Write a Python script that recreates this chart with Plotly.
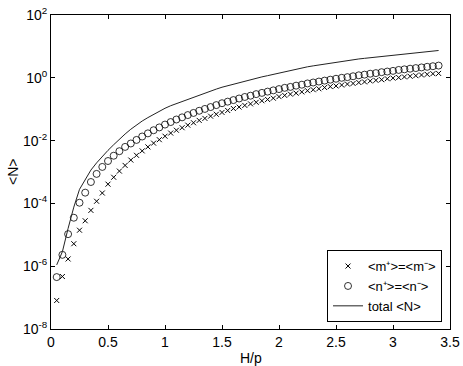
import plotly.graph_objects as go

# H/p grid
h_over_p = [0.05, 0.10, 0.15, 0.20, 0.25, 0.30, 0.35, 0.40, 0.45, 0.50,
            0.55, 0.60, 0.65, 0.70, 0.75, 0.80, 0.85, 0.90, 0.95, 1.00,
            1.05, 1.10, 1.15, 1.20, 1.25, 1.30, 1.35, 1.40, 1.45, 1.50,
            1.55, 1.60, 1.65, 1.70, 1.75, 1.80, 1.85, 1.90, 1.95, 2.00,
            2.05, 2.10, 2.15, 2.20, 2.25, 2.30, 2.35, 2.40, 2.45, 2.50,
            2.55, 2.60, 2.65, 2.70, 2.75, 2.80, 2.85, 2.90, 2.95, 3.00,
            3.05, 3.10, 3.15, 3.20, 3.25, 3.30, 3.35, 3.40]

# <m+> = <m->
m_vals = [8.1e-8, 4.7e-7, 1.7e-6, 5.2e-6, 1.4e-5, 2.8e-5, 6.0e-5, 1.17e-4, 2.14e-4, 4.1e-4,
          6.8e-4, 1.07e-3, 1.62e-3, 2.4e-3, 3.4e-3, 4.7e-3, 6.3e-3, 8.3e-3, 1.07e-2, 1.38e-2,
          1.74e-2, 2.14e-2, 2.57e-2, 3.1e-2, 3.7e-2, 4.4e-2, 5.1e-2, 6.0e-2, 6.9e-2, 7.9e-2,
          9.1e-2, 0.105, 0.117, 0.132, 0.148, 0.166, 0.186, 0.204, 0.224, 0.251,
          0.275, 0.302, 0.324, 0.355, 0.389, 0.417, 0.447, 0.490, 0.525, 0.550,
          0.589, 0.631, 0.661, 0.708, 0.741, 0.794, 0.832, 0.871, 0.933, 0.977,
          1.02, 1.07, 1.12, 1.17, 1.23, 1.29, 1.35, 1.38]

# <n+> = <n->
n_vals = [4.5e-7, 2.3e-6, 1.05e-5, 3.5e-5, 1.05e-4, 2.2e-4, 4.8e-4, 8.7e-4, 1.45e-3, 2.24e-3,
          3.3e-3, 4.6e-3, 6.3e-3, 8.1e-3, 1.05e-2, 1.35e-2, 1.7e-2, 2.14e-2, 2.63e-2, 3.24e-2,
          3.9e-2, 4.7e-2, 5.5e-2, 6.5e-2, 7.6e-2, 8.9e-2, 0.102, 0.117, 0.135, 0.155,
          0.174, 0.195, 0.219, 0.245, 0.269, 0.302, 0.331, 0.363, 0.398, 0.437,
          0.479, 0.513, 0.562, 0.603, 0.661, 0.708, 0.759, 0.813, 0.871, 0.933,
          1.0, 1.05, 1.12, 1.20, 1.26, 1.35, 1.41, 1.51, 1.58, 1.66,
          1.78, 1.86, 1.95, 2.04, 2.14, 2.24, 2.34, 2.45]

# total <N>
total_vals = [1.1e-6, 2.9e-6, 1.6e-5, 7.6e-5, 2.8e-4, 5.9e-4, 1.15e-3, 1.95e-3, 3.2e-3, 4.9e-3,
              7.4e-3, 1.12e-2, 1.62e-2, 2.3e-2, 3.2e-2, 4.2e-2, 5.4e-2, 6.9e-2, 8.7e-2, 0.107,
              0.129, 0.151, 0.178, 0.209, 0.245, 0.288, 0.331, 0.380, 0.437, 0.501,
              0.562, 0.631, 0.708, 0.794, 0.871, 0.955, 1.07, 1.17, 1.29, 1.41,
              1.55, 1.70, 1.86, 2.04, 2.24, 2.40, 2.57, 2.75, 2.95, 3.16,
              3.31, 3.55, 3.72, 3.98, 4.17, 4.37, 4.57, 4.79, 5.01, 5.25,
              5.50, 5.75, 6.03, 6.31, 6.61, 6.92, 7.08, 7.41]

x_ticks = [0, 0.5, 1, 1.5, 2, 2.5, 3, 3.5]
x_tick_labels = ["0", "0.5", "1", "1.5", "2", "2.5", "3", "3.5"]
y_ticks = [1e-8, 1e-6, 1e-4, 1e-2, 1e0, 1e2]
y_tick_labels = ["10<sup>-8</sup>", "10<sup>-6</sup>", "10<sup>-4</sup>",
                 "10<sup>-2</sup>", "10<sup>0</sup>", "10<sup>2</sup>"]

FONT = "Liberation Sans, Arial, Helvetica, sans-serif"

fig = go.Figure()
fig.add_trace(go.Scatter(
    x=h_over_p, y=m_vals, mode="markers",
    name="&lt;m⁺&gt;=&lt;m⁻&gt;",
    marker=dict(symbol="x-thin", size=5, color="black",
                line=dict(color="black", width=1)),
))
fig.add_trace(go.Scatter(
    x=h_over_p, y=n_vals, mode="markers",
    name="&lt;n⁺&gt;=&lt;n⁻&gt;",
    marker=dict(symbol="circle-open", size=7, color="black",
                line=dict(color="black", width=0.8)),
))
fig.add_trace(go.Scatter(
    x=h_over_p, y=total_vals, mode="lines",
    name="total &lt;N&gt;",
    line=dict(color="#222222", width=1),
))

axis_common = dict(
    showline=True, linecolor="black", linewidth=1, mirror="ticks",
    ticks="inside", ticklen=4, tickcolor="black", tickwidth=1,
    showgrid=False, zeroline=False, automargin=False,
    tickfont=dict(family=FONT, size=14, color="black"),
)

fig.update_layout(
    width=463, height=366,
    margin=dict(l=51, r=13, t=15, b=37),
    paper_bgcolor="white", plot_bgcolor="white",
    font=dict(family=FONT, size=14, color="black"),
    showlegend=True,
    legend=dict(
        x=0.98, y=0.022, xanchor="right", yanchor="bottom",
        bgcolor="white", bordercolor="black", borderwidth=1,
        font=dict(family=FONT, size=13, color="black"),
        tracegroupgap=0, itemwidth=30,
    ),
    xaxis=dict(
        range=[0, 3.5], tickvals=x_ticks, ticktext=x_tick_labels,
        **axis_common,
    ),
    yaxis=dict(
        type="log", range=[-8, 2], tickvals=y_ticks, ticktext=y_tick_labels,
        **axis_common,
    ),
    annotations=[
        dict(text="H/p", x=0.5, y=0, xref="paper", yref="paper",
             xanchor="center", yanchor="top", yshift=-19, showarrow=False,
             font=dict(family=FONT, size=14, color="black")),
        dict(text="&lt;N&gt;", x=0, y=0.5, xref="paper", yref="paper",
             xanchor="center", yanchor="middle", xshift=-38, showarrow=False,
             textangle=-90, font=dict(family=FONT, size=14, color="black")),
    ],
)

# remove the browser's default 8px body margin so the figure sits at (0, 0)
fig.write_html("out.html",
               config={"displayModeBar": False},
               post_script="document.body.style.margin='0';document.body.style.overflow='hidden';")
